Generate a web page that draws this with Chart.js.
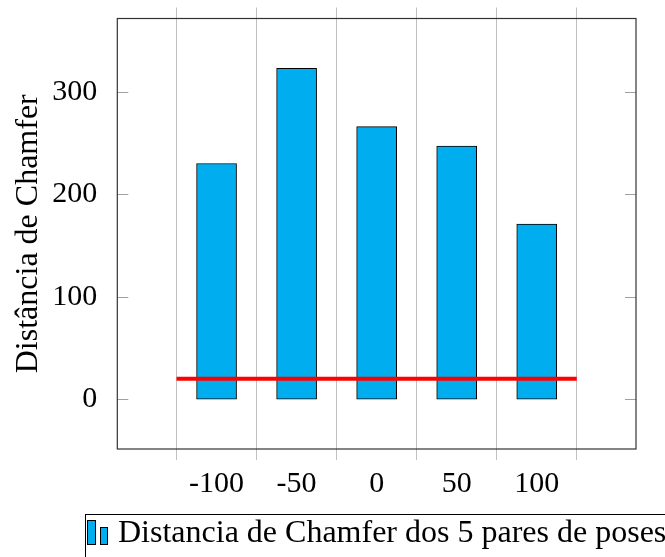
<!DOCTYPE html>
<html>
<head>
<meta charset="utf-8">
<script src="https://cdn.jsdelivr.net/npm/chart.js@4.4.1/dist/chart.umd.min.js"></script>
<style>
  html, body { margin: 0; padding: 0; background: #fff; }
  #c { display: block; }
</style>
</head>
<body>
<canvas id="c" width="665" height="557"></canvas>
<script>
const poses = [-100, -50, 0, 50, 100];
const chamfer = [230, 323, 266, 247, 171];
const gridAt = [-125, -75, -25, 25, 75, 125];
const yTicks = [0, 100, 200, 300];
const limitLine = [{ x: -125, y: 20 }, { x: 125, y: 20 }];
const legendText = "Distancia de Chamfer dos 5 pares de poses";
const yTitle = "Distância de Chamfer";

const serif = "'Liberation Serif', 'Times New Roman', serif";
const barColor = "#00adef";

const frame = {
    id: "frame",
    afterDraw(chart) {
        const ctx = chart.ctx;
        const a = chart.chartArea;
        const y = chart.scales.y;
        ctx.save();
        // inner ticks on the y axis (left and right)
        ctx.strokeStyle = "#a0a0a0";
        ctx.lineWidth = 1;
        yTicks.forEach(v => {
            const py = Math.round(y.getPixelForValue(v)) + 0.5;
            ctx.beginPath();
            ctx.moveTo(a.left, py); ctx.lineTo(a.left + 11, py);
            ctx.moveTo(a.right, py); ctx.lineTo(a.right - 11, py);
            ctx.stroke();
        });
        ctx.strokeStyle = "#333";
        ctx.lineWidth = 1.2;
        ctx.strokeRect(a.left, a.top, a.right - a.left, a.bottom - a.top);

        // legend
        ctx.strokeStyle = "#000";
        ctx.lineWidth = 1;
        ctx.strokeRect(85.5, 514.5, 640, 60);
        ctx.fillStyle = barColor;
        ctx.fillRect(87.5, 520.5, 8, 24);
        ctx.strokeRect(87.5, 520.5, 8, 24);
        ctx.fillRect(100.5, 527.5, 7, 17);
        ctx.strokeRect(100.5, 527.5, 7, 17);
        ctx.fillStyle = "#000";
        ctx.font = "32px " + serif;
        ctx.textBaseline = "alphabetic";
        ctx.fillText(legendText, 118, 542);
        ctx.restore();
    }
};

const xRange = { min: -162, max: 162 };

new Chart(document.getElementById("c"), {
    type: "bar",
    data: {
        datasets: [
            {
                type: "line",
                data: limitLine,
                borderColor: "#ff0000",
                borderWidth: 4,
                pointRadius: 0,
                xAxisID: "x",
                yAxisID: "y",
                order: 0
            },
            {
                label: legendText,
                data: poses.map((p, i) => ({ x: p, y: chamfer[i] })),
                backgroundColor: barColor,
                borderColor: "#000",
                borderWidth: 1,
                borderSkipped: false,
                barThickness: 40,
                xAxisID: "x",
                yAxisID: "y",
                order: 1
            }
        ]
    },
    options: {
        responsive: false,
        animation: false,
        devicePixelRatio: 1,
        layout: { autoPadding: false, padding: { left: 0, right: 29, top: 7.5, bottom: 47 } },
        plugins: { legend: { display: false }, tooltip: { enabled: false } },
        scales: {
            x: {
                type: "linear",
                position: "bottom",
                weight: 1,
                ...xRange,
                offset: false,
                afterBuildTicks: s => { s.ticks = poses.map(v => ({ value: v })); },
                afterFit: s => { s.height = 50; s.paddingLeft = 0; s.paddingRight = 0; },
                grid: { display: false, offset: false },
                border: { display: false },
                ticks: {
                    color: "#000",
                    font: { family: serif, size: 30 },
                    padding: -2,
                    maxRotation: 0,
                    autoSkip: false,
                    callback: v => String(v)
                }
            },
            xGrid: {
                type: "linear",
                position: "bottom",
                weight: 0,
                ...xRange,
                offset: false,
                afterBuildTicks: s => { s.ticks = gridAt.map(v => ({ value: v })); },
                afterFit: s => { s.height = 11; },
                grid: { color: "#c0c0c0", lineWidth: 1, drawTicks: true, tickLength: 11, offset: false },
                border: { display: false },
                ticks: { display: false }
            },
            xTop: {
                type: "linear",
                position: "top",
                ...xRange,
                offset: false,
                afterBuildTicks: s => { s.ticks = gridAt.map(v => ({ value: v })); },
                afterFit: s => { s.height = 11; },
                grid: { color: "#c0c0c0", lineWidth: 1, drawTicks: true, tickLength: 11, drawOnChartArea: false, offset: false },
                border: { display: false },
                ticks: { display: false }
            },
            y: {
                type: "linear",
                position: "left",
                min: -48.5,
                max: 371.5,
                afterBuildTicks: s => { s.ticks = yTicks.map(v => ({ value: v })); },
                afterFit: s => { s.width = 117.3; s.paddingTop = 0; s.paddingBottom = 0; },
                grid: { display: false },
                border: { display: false },
                ticks: {
                    color: "#000",
                    font: { family: serif, size: 30 },
                    padding: 12
                },
                title: {
                    display: true,
                    text: yTitle,
                    color: "#000",
                    font: { family: serif, size: 32 },
                    padding: { top: 9, bottom: 0 }
                }
            }
        }
    },
    plugins: [frame]
});
</script>
</body>
</html>
